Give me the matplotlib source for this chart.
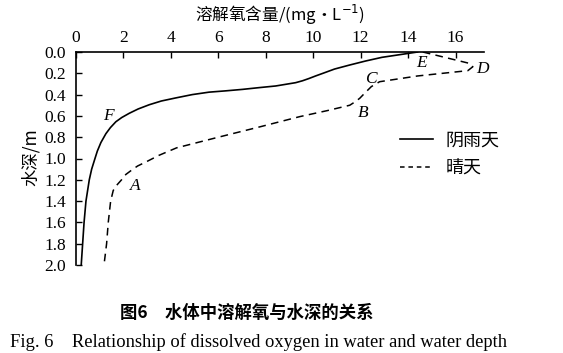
import matplotlib
matplotlib.use("Agg")
import matplotlib.pyplot as plt
from matplotlib.lines import Line2D

# Data: dissolved oxygen (mg/L) vs water depth (m)
cloudy_depth = [0.0, 0.02, 0.05, 0.085, 0.122, 0.16, 0.20, 0.225, 0.249, 0.27, 0.288, 0.305,
                0.319, 0.335, 0.351, 0.365, 0.377, 0.40, 0.431, 0.46, 0.495, 0.535, 0.575,
                0.615, 0.655, 0.71, 0.767, 0.85, 0.93, 1.0, 1.1, 1.2, 1.4, 1.6, 1.8, 2.0]
cloudy_do = [14.4, 13.8, 12.9, 12.2, 11.54, 10.9, 10.41, 10.1, 9.82, 9.55, 9.26, 8.8,
             8.42, 7.7, 7.02, 6.3, 5.61, 4.9, 4.21, 3.6, 3.09, 2.62, 2.25,
             1.93, 1.68, 1.45, 1.26, 1.05, 0.9, 0.8, 0.66, 0.56, 0.42, 0.34, 0.28, 0.22]

sunny_depth = [0.0, 0.107, 0.138, 0.175, 0.225, 0.279, 0.325, 0.38, 0.435, 0.47, 0.50, 0.55,
               0.607, 0.70, 0.80, 0.90, 0.97, 1.03, 1.07, 1.10, 1.15, 1.20, 1.25, 1.30, 1.40,
               1.60, 1.80, 2.0]
sunny_do = [14.62, 16.59, 16.73, 16.52, 14.4, 12.8, 12.45, 12.2, 11.96, 11.75, 11.54, 10.6,
            9.43, 7.8, 6.0, 4.24, 3.5, 2.97, 2.6, 2.4, 2.1, 1.92, 1.72, 1.57, 1.46,
            1.36, 1.29, 1.18]

point_labels = ["A", "B", "C", "D", "E", "F"]
point_x = [2.5, 12.1, 12.45, 17.15, 14.55, 1.35]
point_y = [1.26, 0.57, 0.25, 0.16, 0.10, 0.60]

x_ticks = [0, 2, 4, 6, 8, 10, 12, 14, 16]
y_ticks = [0.0, 0.2, 0.4, 0.6, 0.8, 1.0, 1.2, 1.4, 1.6, 1.8, 2.0]

serif = ["Liberation Serif", "DejaVu Serif"]
cjk = ["Noto Sans CJK SC", "DejaVu Sans"]

fig = plt.figure(figsize=(5.63, 3.53), dpi=100)
ax = fig.add_axes([76/563, 1-265/353, (484-76)/563, (265-52)/353])

ax.plot(cloudy_do, cloudy_depth, color="black", lw=1.2, solid_joinstyle="round")
ax.plot(sunny_do, sunny_depth, color="black", lw=1.1, dashes=(5, 3.5))

ax.set_xlim(0, 17.2)
ax.set_ylim(2.0, 0.0)
ax.xaxis.set_ticks_position("top")
ax.xaxis.set_label_position("top")
ax.set_xticks(x_ticks)
ax.set_yticks(y_ticks)
ax.set_xticklabels([str(v) for v in x_ticks], fontfamily=serif, fontsize=12.5)
ax.set_yticklabels([f"{v:.1f}" for v in y_ticks], fontfamily=serif, fontsize=12.5)
ax.tick_params(direction="in", length=4, width=1)
ax.tick_params(axis="y", pad=7)
ax.tick_params(axis="x", pad=4)
for s in ["bottom", "right"]:
    ax.spines[s].set_visible(False)
for s in ["top", "left"]:
    ax.spines[s].set_linewidth(1.2)

fig.text(31/563, 1-157/353, "水深/m", fontfamily=cjk, fontsize=12.5, rotation=90,
         ha="center", va="center")
fig.text(280/563, 1-15/353, "溶解氧含量/(mg·L$^{-1}$)", fontfamily=cjk, fontsize=12,
         ha="center", va="center")

for lab, x, y in zip(point_labels, point_x, point_y):
    ax.text(x, y, lab, fontfamily=serif, fontstyle="italic", fontsize=12.5,
            ha="center", va="center")

handles = [Line2D([], [], color="black", lw=1.2),
           Line2D([], [], color="black", lw=1.1, dashes=(3, 2.5))]
leg = ax.legend(handles, ["阴雨天", "晴天"], loc="upper left",
                bbox_to_anchor=((393-76)/408, 1-(124-52)/213), frameon=False,
                prop={"family": cjk, "size": 13}, handlelength=1.8, handletextpad=0.7,
                labelspacing=0.55, borderaxespad=0)

fig.text(247/563, 1-313/353, "图6　水体中溶解氧与水深的关系", fontfamily=cjk,
         fontsize=12.5, fontweight="bold", ha="center", va="center")
fig.text(258/563, 1-342/353, "Fig. 6    Relationship of dissolved oxygen in water and water depth",
         fontfamily=serif, fontsize=13.3, ha="center", va="center")

fig.savefig("out.png", dpi=100)
